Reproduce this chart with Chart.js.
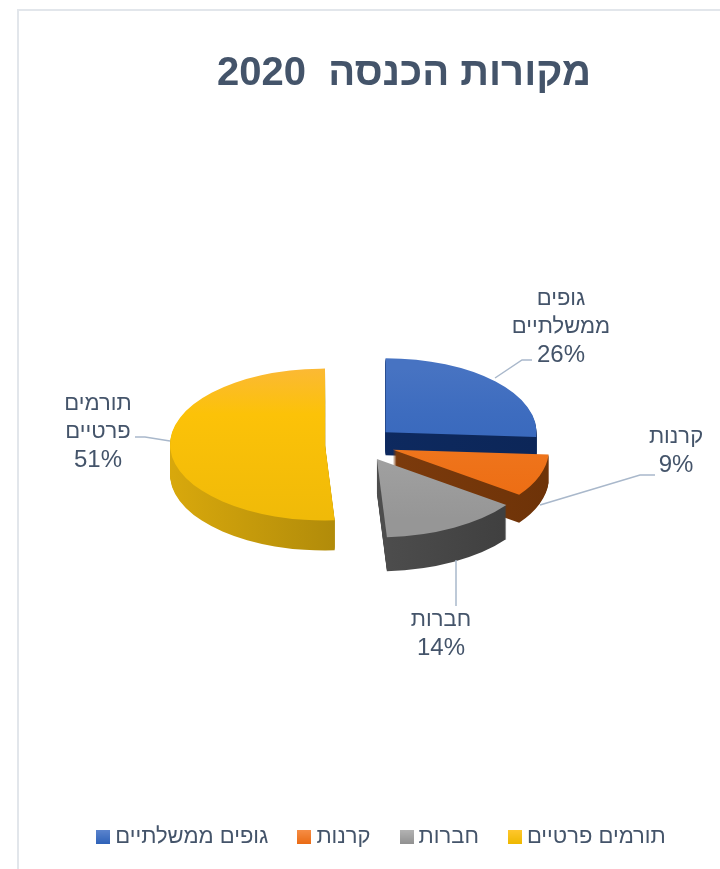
<!DOCTYPE html>
<html lang="he">
<head>
<meta charset="utf-8">
<title>מקורות הכנסה 2020</title>
<script src="https://cdn.jsdelivr.net/npm/chart.js@4"></script>
<style>
html,body{margin:0;padding:0;background:#fff;}
#frame{position:absolute;left:17px;top:9px;right:0;bottom:0;border:solid #e2e6eb;border-width:2px 0 0 2px;}
#chart{position:absolute;left:0;top:0;}
</style>
</head>
<body>
<div id="frame"></div>
<canvas id="chart" width="720" height="869" dir="rtl"></canvas>
<script>

const titleText = "מקורות הכנסה  2020";
const categories = ["גופים ממשלתיים","קרנות","חברות","תורמים פרטיים"];
const values = [26,9,14,51];
const labelLines = [["גופים","ממשלתיים"],["קרנות"],["חברות"],["תורמים","פרטיים"]];

const topColors = [
    ["#4773c2","#3d6cbf","#2f62b8"],
    ["#f5903f","#f07a22","#ec6a10"],
    ["#b8b8b8","#a8a8a8","#969696"],
    ["#fbb934","#fcc208","#f0ba08"]
];
const sideColors = [["#0f2d66","#0c2658"],["#8a4210","#6e3308"],["#5e5e5e","#3d3d3d"],["#d8a80c","#8f7208"]];
const legendColors = [["#5b84cd","#2f62b8"],["#f68d45","#ea6b14"],["#b3b3b3","#919191"],["#ffc72e","#eeb800"]];

const textColor = "#44546a";
const leaderColor = "#a9b8cb";
const fontFamily = "'Liberation Sans', Arial, sans-serif";

const pieCenterX = 360;
const pieCenterY = 444;
const pieRadius = 153;
const explode = 35;
const squash = 0.49;

// the front slices look bigger and thicker in the perspective of the original
const sliceRadius = [151,156,160,155];
const sliceDepth = [23,28,34,30];

// where each data label sits and where its leader line runs
const labelBoxes = [
    {x:561,y:299,lead:[[495,378],[522,360],[532,360]]},
    {x:676,y:437,lead:[[540,505],[640,475],[655,475]]},
    {x:441,y:620,lead:[[456,560],[456,606]]},
    {x:98,y:404,lead:[[170,441],[145,437],[135,437]]}
];
const labelLineHeight = 28;


/* =========================================
   Fake 3D: tilt the pie and extrude it
========================================= */

function tilt(ctx,shift){
    ctx.translate(0,pieCenterY+shift);
    ctx.scale(1,squash);
    ctx.translate(0,-pieCenterY);
}

function sideGradient(ctx,arc,i){
    const g = ctx.createLinearGradient(arc.x-pieRadius,0,arc.x+pieRadius,0);
    g.addColorStop(0,sideColors[i][0]);
    g.addColorStop(1,sideColors[i][1]);
    return g;
}

const pie3d = {
    id:"pie3d",

    afterDatasetUpdate(chart){
        chart.getDatasetMeta(0).data.forEach((arc,i)=>{
            const mid = (arc.startAngle+arc.endAngle)/2;
            arc.x = pieCenterX + Math.cos(mid)*explode;
            arc.y = pieCenterY + Math.sin(mid)*explode;
            arc.outerRadius = sliceRadius[i];
        });
    },

    beforeDatasetsDraw(chart){
        const ctx = chart.ctx;
        const arcs = chart.getDatasetMeta(0).data;

        arcs.forEach((arc,i)=>{
            const topOptions = arc.options;
            arc.options = Object.create(topOptions,{
                backgroundColor:{value:sideGradient(ctx,arc,i)},
                borderWidth:{value:0}
            });
            for(let k=sliceDepth[i];k>=1;k--){
                ctx.save();
                tilt(ctx,k);
                arc.draw(ctx);
                ctx.restore();
            }
            arc.options = topOptions;
        });

        ctx.save();
        tilt(ctx,0);
    },

    afterDatasetsDraw(chart){
        chart.ctx.restore();
    },

    afterDraw(chart){
        const ctx = chart.ctx;
        ctx.save();
        ctx.direction = "rtl";
        ctx.textAlign = "center";
        ctx.textBaseline = "middle";

        labelBoxes.forEach((box,i)=>{
            ctx.strokeStyle = leaderColor;
            ctx.lineWidth = 1.5;
            ctx.beginPath();
            box.lead.forEach((p,n)=> n ? ctx.lineTo(p[0],p[1]) : ctx.moveTo(p[0],p[1]));
            ctx.stroke();

            ctx.fillStyle = textColor;
            ctx.font = "22px "+fontFamily;
            labelLines[i].forEach((line,n)=> ctx.fillText(line,box.x,box.y+n*labelLineHeight));
            ctx.font = "24px "+fontFamily;
            ctx.fillText(values[i]+"%",box.x,box.y+labelLines[i].length*labelLineHeight);
        });
        ctx.restore();
    },

    // title and legend are not centred on the pie in the original
    afterLayout(chart){
        chart.titleBlock.left += 44;
        chart.titleBlock.right += 44;
        chart.legend.left += 24;
        chart.legend.right += 24;
        chart.legend.top -= 11;
        chart.legend.bottom -= 11;
    }
};


/* =========================================
   Chart
========================================= */

function topGradient(context){
    const i = context.dataIndex;
    if(i === undefined) return topColors[0][0];
    const ctx = context.chart.ctx;
    const g = ctx.createLinearGradient(0,pieCenterY-pieRadius,0,pieCenterY+pieRadius);
    g.addColorStop(0,topColors[i][0]);
    g.addColorStop(0.3,topColors[i][1]);
    g.addColorStop(1,topColors[i][2]);
    return g;
}

// legend boxes are small canvases, so they can have a gradient and sit close to the text
function legendBox(colors){
    const box = document.createElement("canvas");
    box.width = 14;
    box.height = 14;
    const c = box.getContext("2d");
    const g = c.createLinearGradient(0,0,0,14);
    g.addColorStop(0,colors[0]);
    g.addColorStop(1,colors[1]);
    c.fillStyle = g;
    c.fillRect(0,0,14,14);
    return box;
}

function legendItems(){
    return categories.map((text,i)=>({
        text,
        pointStyle:legendBox(legendColors[i]),
        rotation:0,
        fillStyle:legendColors[i][1],
        strokeStyle:"rgba(0,0,0,0)",
        lineWidth:0,
        index:i,
        fontColor:textColor
    }));
}

new Chart(document.getElementById("chart"),{
    type:"pie",
    data:{
        labels:categories,
        datasets:[{
            data:values,
            backgroundColor:topGradient,
            borderWidth:0,
            radius:pieRadius
        }]
    },
    options:{
        responsive:false,
        animation:false,
        events:[],
        plugins:{
            title:{
                display:true,
                text:titleText,
                color:textColor,
                font:{family:fontFamily,size:40,weight:"bold"},
                padding:{top:50,bottom:20}
            },
            legend:{
                position:"bottom",
                labels:{
                    generateLabels:legendItems,
                    usePointStyle:true,
                    boxWidth:2,
                    boxHeight:2,
                    padding:35,
                    color:textColor,
                    font:{family:fontFamily,size:22}
                }
            },
            tooltip:{enabled:false}
        }
    },
    plugins:[pie3d]
});

</script>
</body>
</html>
